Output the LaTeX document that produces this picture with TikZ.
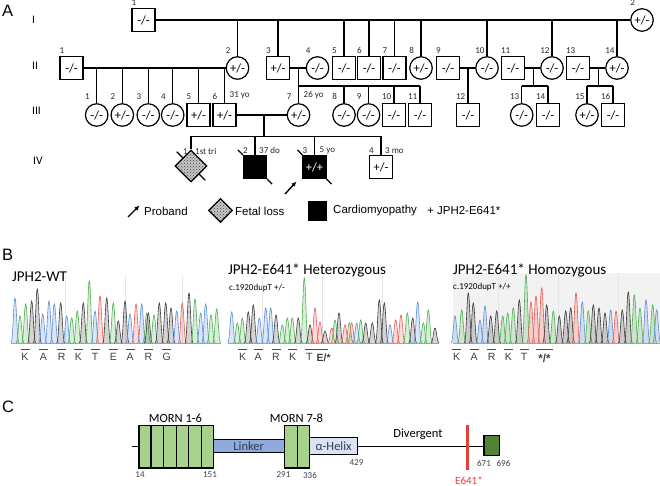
\documentclass[tikz,border=0pt]{standalone}
\usepackage{fontspec}
\setmainfont{Carlito}
\newfontfamily\arial{Liberation Sans}
\usetikzlibrary{shapes.geometric,patterns,arrows.meta,calc}
\definecolor{mgreen}{HTML}{A9D18E}
\definecolor{dgreen}{HTML}{548235}
\definecolor{lblue}{HTML}{8FAADC}
\definecolor{hblue}{HTML}{DAE3F3}
\definecolor{ered}{HTML}{E4403A}
\definecolor{pK}{HTML}{3C3C3C}
\definecolor{pG}{HTML}{4DB04F}
\definecolor{pB}{HTML}{5B8FD8}
\definecolor{pR}{HTML}{EE5A52}
\definecolor{lnktxt}{HTML}{303C52}
\newcommand\fs[1]{\fontsize{#1}{#1}\selectfont}
\newcommand\plab[4]{\node[lab,yshift=#4] (#1) at (#2.west |- #2.north) {#3};}
\newcommand\alab[4]{\node[lab,xshift=5pt,yshift=#4] (#1) at (#2.north) {#3};}
\newcommand\peaks[1]{\foreach \x/\h/\c in {#1}{%
  \fill[\c, fill opacity=0.22] (\x,343) ++(-4,0) .. controls +(2,0) and +(-1.4,0) .. ++(4,-\h) .. controls +(1.4,0) and +(-2,0) .. ++(4,\h) -- cycle;
  \draw[\c, line width=0.6pt] (\x,343) ++(-4,0) .. controls +(2,0) and +(-1.4,0) .. ++(4,-\h) .. controls +(1.4,0) and +(-2,0) .. ++(4,\h);}}
\begin{document}
\begin{tikzpicture}[x=1pt,y=-1pt,
  pl/.style={line width=1.2pt},
  sq/.style={draw, line width=1.2pt, minimum size=23pt, inner sep=0pt, fill=white, font=\fs{12.5}},
  ci/.style={circle, draw, line width=1.2pt, minimum size=22.5pt, inner sep=0pt, fill=white, font=\fs{12.5}},
  lab/.style={font=\fs{9}, inner sep=0pt, anchor=south west, text=black!85},
  gen/.style={font=\fs{11.5}, inner sep=0pt, anchor=west},
  pnl/.style={font=\arial\fs{16.5}, inner sep=0pt, anchor=base west},
  leg/.style={font=\arial\fs{11.5}, inner sep=0pt, anchor=west},
  dead/.style={line width=1.2pt},
  parrow/.style={line width=1.4pt, -{Latex[length=5pt,width=4.5pt]}},
  fetal/.style={diamond, aspect=1, draw, line width=1.2pt, inner sep=0pt, preaction={fill=gray!45}, pattern=crosshatch dots, pattern color=black!75},
  ttl/.style={font=\fs{15}, inner sep=0pt, anchor=base west},
  sub/.style={font=\fs{9}, inner sep=0pt, anchor=base west},
  aa/.style={font=\arial\fs{10.5}, inner sep=0pt, text=black!75},
  ovl/.style={line width=1.3pt, black!70},
  dom/.style={draw, line width=1.3pt, inner sep=0pt},
  num/.style={font=\fs{9}, inner sep=0pt, text=black!75},
  dlab/.style={font=\fs{12.5}, inner sep=0pt}]
\useasboundingbox (0,0) rectangle (660,486);

% ---------------- Panel A ----------------
\node[pnl] (LA) at (2,17) {A};
\node[gen] (g1) at (32,20) {I};
\node[gen] (g2) at (32,66) {II};
\node[gen] (g3) at (32,111) {III};
\node[gen] (g4) at (33,161) {IV};

% generation I
\node[sq] (I1) at (143.5,20) {-/-};
\node[ci] (I2) at (642,20) {+/-};
% generation II
\node[sq] (II1) at (71.5,68) {-/-};
\node[ci] (II2) at (237.5,68) {+/-};
\node[sq] (II3) at (278,68) {+/-};
\node[ci] (II4) at (317.5,68) {-/-};
\node[sq] (II5) at (344,68) {-/-};
\node[sq] (II6) at (369,68) {-/-};
\node[sq] (II7) at (394.5,68) {-/-};
\node[ci] (II8) at (421,68) {+/-};
\node[sq] (II9) at (448,68) {-/-};
\node[ci] (II10) at (487,68) {-/-};
\node[sq] (II11) at (513,68) {-/-};
\node[ci] (II12) at (552,68) {-/-};
\node[sq] (II13) at (578,68) {-/-};
\node[ci] (II14) at (617,68) {+/-};
% generation III
\node[ci] (III1) at (96.7,115) {-/-};
\node[ci] (III2) at (122.3,115) {+/-};
\node[ci] (III3) at (148.3,115) {-/-};
\node[ci] (III4) at (172.7,115) {-/-};
\node[sq] (III5) at (198.5,115) {+/-};
\node[sq] (III6) at (224.5,115) {+/-};
\node[ci] (III7) at (298.5,115) {+/-};
\node[ci] (III8) at (344,115) {-/-};
\node[ci] (III9) at (368.5,115) {-/-};
\node[sq] (III10) at (394,115) {-/-};
\node[sq] (III11) at (420,115) {-/-};
\node[sq] (III12) at (468,115) {-/-};
\node[ci] (III13) at (521.7,115) {-/-};
\node[sq] (III14) at (548,115) {-/-};
\node[ci] (III15) at (587,115) {+/-};
\node[sq] (III16) at (613,115) {-/-};

% lines gen I
\draw[pl] (I1.east) -- (I2.west);
\foreach \n in {II2,II3,II5,II6,II7,II8,II10,II12,II14}
  \draw[pl] (\n.north |- I1.east) -- (\n.north);
% II1 x II2
\draw[pl] (II1.east) -- (II2.west);
\foreach \n in {III1,III2,III3,III4,III5,III6}
  \draw[pl] (\n.north |- II1.east) -- (\n.north);
% II3 x II4
\draw[pl] (II3.east) -- (II4.west);
\coordinate (m34) at (298.5,68);
\coordinate (s34) at (298.5,86);
\draw[pl] (m34) -- (III7.north);
\draw[pl] (s34) -- (s34 -| III11.north);
\foreach \n in {III8,III9,III10,III11}
  \draw[pl] (\n.north |- s34) -- (\n.north);
% II9 x II10
\draw[pl] (II9.east) -- (II10.west);
\draw[pl] (III12.north |- II9.east) -- (III12.north);
% II11 x II12
\draw[pl] (II11.east) -- (II12.west);
\coordinate (m1112) at (533.3,68);
\coordinate (s1112) at (533.3,86);
\draw[pl] (m1112) -- (s1112);
\draw[pl] (III13.north |- s1112) -- (III14.north |- s1112);
\foreach \n in {III13,III14} \draw[pl] (\n.north |- s1112) -- (\n.north);
% II13 x II14
\draw[pl] (II13.east) -- (II14.west);
\coordinate (m1314) at (598.3,68);
\coordinate (s1314) at (598.3,86);
\draw[pl] (m1314) -- (s1314);
\draw[pl] (III15.north |- s1314) -- (III16.north |- s1314);
\foreach \n in {III15,III16} \draw[pl] (\n.north |- s1314) -- (\n.north);

% generation IV
\node[fetal, minimum size=32pt] (IV1) at (191,166) {};
\node[sq, fill=black] (IV2) at (255,167) {};
\node[sq, fill=black, text=white] (IV3) at (314.5,167) {+/+};
\node[sq] (IV4) at (381,167) {+/-};
\draw[pl] (III6.east) -- (III7.west);
\coordinate (u67) at (264,115);
\coordinate (s67) at (264,136.5);
\draw[pl] (u67) -- (s67);
\draw[pl] (IV1.north |- s67) -- (IV4.north |- s67);
\foreach \n in {IV1,IV2,IV3,IV4} \draw[pl] (\n.north |- s67) -- (\n.north);
% deceased marks
\draw[dead] (IV1.north west) -- ++(-6,-6);
\draw[dead] (IV1.south east) -- ++(6,6);
\draw[dead] (IV2.north west) -- ++(-5,-5);
\draw[dead] (IV2.south east) -- ++(5,5);
\draw[dead] (IV3.north west) -- ++(-5,-5);
\draw[dead] (IV3.south east) -- ++(5,5);
% proband arrow
\coordinate (pa0) at (285,194);
\coordinate (pa1) at (296.5,181.5);
\draw[parrow] (pa0) -- (pa1);

% numbering labels
\plab{lI1}{I1}{1}{2pt}
\plab{lI2}{I2}{2}{2pt}
\plab{lII1}{II1}{1}{2pt}
\plab{lII2}{II2}{2}{2pt}
\plab{lII3}{II3}{3}{2pt}
\plab{lII4}{II4}{4}{2pt}
\plab{lII5}{II5}{5}{2pt}
\plab{lII6}{II6}{6}{2pt}
\plab{lII7}{II7}{7}{2pt}
\plab{lII8}{II8}{8}{2pt}
\plab{lII9}{II9}{9}{2pt}
\plab{lII10}{II10}{10}{2pt}
\plab{lII11}{II11}{11}{2pt}
\plab{lII12}{II12}{12}{2pt}
\plab{lII13}{II13}{13}{2pt}
\plab{lII14}{II14}{14}{2pt}
\plab{lIII1}{III1}{1}{3.5pt}
\plab{lIII2}{III2}{2}{3.5pt}
\plab{lIII3}{III3}{3}{3.5pt}
\plab{lIII4}{III4}{4}{3.5pt}
\plab{lIII5}{III5}{5}{3.5pt}
\plab{lIII6}{III6}{6}{3.5pt}
\plab{lIII7}{III7}{7}{3.5pt}
\plab{lIII8}{III8}{8}{3.5pt}
\plab{lIII9}{III9}{9}{3.5pt}
\plab{lIII10}{III10}{10}{3.5pt}
\plab{lIII11}{III11}{11}{3.5pt}
\plab{lIII12}{III12}{12}{3.5pt}
\plab{lIII13}{III13}{13}{3.5pt}
\plab{lIII14}{III14}{14}{3.5pt}
\plab{lIII15}{III15}{15}{3.5pt}
\plab{lIII16}{III16}{16}{3.5pt}
\alab{aIII6}{III6}{31 yo}{3.5pt}
\alab{aIII7}{III7}{26 yo}{3.5pt}
\node[lab] (lIV1) at (183,154.5) {1};
\node[lab] (aIV1) at (195,154.5) {1st tri};
\plab{lIV2}{IV2}{2}{1pt}
\plab{lIV3}{IV3}{3}{1pt}
\plab{lIV4}{IV4}{4}{1pt}
\node[lab,xshift=4pt,yshift=1pt] (aIV2) at (IV2.north) {37 do};
\node[lab,xshift=5pt,yshift=1pt] (aIV3) at (IV3.north) {5 yo};
\node[lab,xshift=4pt,yshift=1pt] (aIV4) at (IV4.north) {3 mo};

% legend
\coordinate (la0) at (128,217);
\coordinate (la1) at (139.5,205.5);
\draw[parrow] (la0) -- (la1);
\node[leg] (tProband) at (144,211) {Proband};
\node[fetal, minimum size=24pt] (LD) at (220.5,210.5) {};
\node[leg] (tFetal) at (235,211) {Fetal loss};
\node[draw, fill=black, minimum size=18.5pt, inner sep=0pt] (LS) at (317,210.5) {};
\node[leg] (tCardio) at (333,211) {Cardiomyopathy};
\node[leg] (tJPH) at (427,211) {+ JPH2-E641*};

% ---------------- Panel B ----------------
\node[pnl] (LB) at (2,260) {B};
\node[ttl] (tWT) at (12,281) {JPH2-WT};
\node[ttl] (tHet) at (228,274) {JPH2-E641* Heterozygous};
\node[sub] (sHet) at (229,290.5) {c.1920dupT +/-};
\fill[black!5] (453,273) rectangle (660,343);
\node[ttl] (tHom) at (453,274) {JPH2-E641* Homozygous};
\node[sub] (sHom) at (453,289.5) {c.1920dupT +/+};
% faint grid
\foreach \gx in {65,125,182,262,322,382,498,558,618}
  \draw[black!10, line width=0.4pt] (\gx,276) -- (\gx,343);
% baselines
\draw[black!35, line width=0.5pt] (11,343) -- (221,343);
\draw[black!35, line width=0.5pt] (228,343) -- (439,343);
\draw[black!35, line width=0.5pt] (453,343) -- (660,343);
% WT peaks
\peaks{15/45/pB,20/27/pG,25.7/39/pG,31.7/42/pK,37.3/54/pK,42.7/29/pB,49/42/pB,54.3/39/pB,60.7/40/pK,66.7/27/pB,71.7/25/pG,77.3/32/pG,83.3/40/pK,89.3/62/pG,95/32/pB,100/47/pR,106.7/45/pK,113.3/40/pG,118.3/22/pK,125/42/pK,130/29/pB,136/39/pR,141.7/39/pB,146.7/30/pG,148.3/30/pK,154/28/pG,159.3/40/pK,165.7/40/pK,171/35/pK,176.7/32/pB,182.3/40/pR,189/50/pK,195/44/pG,200.7/30/pB,205.7/39/pB,211/28/pG,216.7/34/pG}
% Het peaks
\peaks{231.7/31/pB,237.3/20/pG,242.3/25/pG,248.3/31/pK,253.3/38/pK,259.3/25/pB,265.7/35/pB,270.7/35/pB,276/28/pK,282.3/18/pG,287.3/25/pG,292.3/25/pG,298.3/25/pK,304.3/65/pG,310/18/pK,315/35/pR,320/21/pR,325/12/pK,331.7/15/pR,335/23/pG,339/30/pK,345/18/pR,349.3/20/pG,351.7/20/pR,356.7/20/pB,360.7/23/pG,365.7/20/pK,372.3/20/pK,379.3/43/pK,384.3/40/pK,390/18/pB,395.7/23/pR,401/28/pR,407.3/30/pG,412.7/25/pK,417.7/41/pB,423.3/20/pG,428.3/33/pG,435/15/pK}
% Hom peaks
\peaks{455/27/pB,461.7/33/pG,468.3/50/pK,473.3/40/pK,480/23/pB,485/37/pB,490.7/27/pK,496.7/32/pK,502.7/27/pG,507.7/30/pG,513.3/35/pG,519.3/43/pK,526/68/pG,531/41/pR,536/47/pR,541.7/55/pR,546.7/38/pK,553.3/32/pG,559.3/27/pK,565.7/32/pK,570.7/35/pK,576/50/pR,582.3/41/pB,588.3/32/pG,593.3/38/pK,599/35/pK,605/30/pK,610.7/33/pB,616/32/pR,622.3/33/pK,628.3/51/pK,634.3/48/pG,640/35/pG,646/43/pB,652.7/38/pG,656.7/33/pB}
% amino acid labels
\foreach \x/\t [count=\i] in {25/K,43.3/A,61.7/R,78.3/K,95/T,113.3/E,130/A,148.3/R,166.7/G}{
  \node[aa] (wt\i) at (\x,357) {\t};
  \draw[ovl] (\x-4.5,349.5) -- (\x+4.5,349.5);}
\foreach \x/\t [count=\i] in {242.7/K,258/A,276/R,292.7/K,309.3/T}{
  \node[aa] (het\i) at (\x,357) {\t};
  \draw[ovl] (\x-4.5,349.5) -- (\x+4.5,349.5);}
\node[aa, anchor=west, font=\arial\bfseries\fs{10.5}] (het6) at (316.5,357.5) {E/*};
\draw[ovl] (313.5,349.5) -- (328,349.5);
\foreach \x/\t [count=\i] in {456.7/K,474/A,491.7/R,508.3/K,524/T}{
  \node[aa] (hom\i) at (\x,357) {\t};
  \draw[ovl] (\x-4.5,349.5) -- (\x+4.5,349.5);}
\node[aa, font=\arial\bfseries\fs{11.5}] (hom6) at (544.5,358) {*/*};
\draw[ovl] (535.5,349.5) -- (552.5,349.5);

% ---------------- Panel C ----------------
\node[pnl] (LC) at (2,412) {C};
\coordinate (bb0) at (131.7,446);
\coordinate (bb1) at (483.3,446);
\draw[line width=1pt] (bb0) -- (bb1);
\node[dom, fill=mgreen, minimum width=74.4pt, minimum height=42.3pt, anchor=north west] (m16) at (138.3,425) {};
\foreach \i in {1,...,5}
  \draw[line width=1.3pt] ($(m16.north west)!\i/6!(m16.north east)$) -- ($(m16.south west)!\i/6!(m16.south east)$);
\node[draw, line width=0.8pt, fill=lblue, minimum width=71.3pt, minimum height=13.4pt, inner sep=0pt, anchor=west, font=\fs{12.5}, text=lnktxt] (lnk) at (212.7,446) {Linker};
\node[dom, fill=mgreen, minimum width=25pt, minimum height=42.3pt, anchor=north west] (m78) at (284,425) {};
\draw[line width=1.3pt] (m78.north) -- (m78.south);
\node[draw, line width=0.9pt, fill=hblue, minimum width=48.3pt, minimum height=17.7pt, inner sep=0pt, anchor=west, font=\fs{12.5}, text=lnktxt] (hel) at (309,446) {α-Helix};
\draw[ered, line width=2.5pt] (467.7,425) -- (467.7,470);
\node[dom, fill=dgreen, minimum width=15.7pt, minimum height=20pt, anchor=north west] (ct) at (483.3,435) {};
\node[dlab, anchor=base] (tm16) at (175.5,422) {MORN 1-6};
\node[dlab, anchor=base] (tm78) at (296.5,422) {MORN 7-8};
\node[dlab] (tdiv) at (418,434) {Divergent};
\node[num] (n14) at (140,475) {14};
\node[num] (n151) at (210,475) {151};
\node[num] (n291) at (283.5,475) {291};
\node[num] (n336) at (310,475) {336};
\node[num] (n429) at (356.5,463) {429};
\node[num] (n671) at (484,463) {671};
\node[num] (n696) at (503.5,463) {696};
\node[font=\fs{11}, inner sep=0pt, text=ered, anchor=base] (tE641) at (469,484) {E641*};
\end{tikzpicture}
\end{document}
